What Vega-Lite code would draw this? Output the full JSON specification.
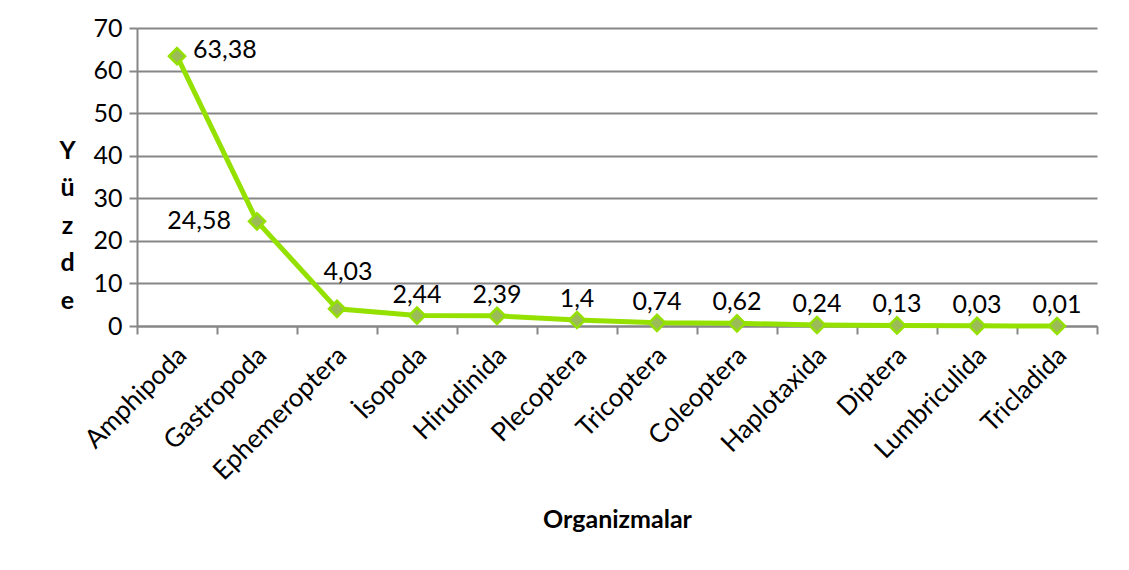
{
  "$schema": "https://vega.github.io/schema/vega-lite/v6.json",
  "width": 960,
  "height": 298,
  "autosize": {"type": "none"},
  "padding": {"left": 137, "top": 28, "right": 32, "bottom": 244},
  "background": "white",
  "config": {
    "view": {"stroke": null},
    "font": "Lato",
    "locale": {"number": {"decimal": ",", "thousands": ".", "grouping": [3], "currency": ["", " TL"]}}
  },
  "data": {
    "values": [
      {"organizma": "Amphipoda", "yuzde": 63.38},
      {"organizma": "Gastropoda", "yuzde": 24.58},
      {"organizma": "Ephemeroptera", "yuzde": 4.03},
      {"organizma": "İsopoda", "yuzde": 2.44},
      {"organizma": "Hirudinida", "yuzde": 2.39},
      {"organizma": "Plecoptera", "yuzde": 1.4},
      {"organizma": "Tricoptera", "yuzde": 0.74},
      {"organizma": "Coleoptera", "yuzde": 0.62},
      {"organizma": "Haplotaxida", "yuzde": 0.24},
      {"organizma": "Diptera", "yuzde": 0.13},
      {"organizma": "Lumbriculida", "yuzde": 0.03},
      {"organizma": "Tricladida", "yuzde": 0.01}
    ]
  },
  "encoding": {
    "x": {
      "field": "organizma",
      "type": "nominal",
      "sort": null,
      "scale": {"paddingInner": 0, "paddingOuter": 0},
      "axis": {
        "title": "Organizmalar",
        "titleFont": "Lato",
        "titleFontSize": 25,
        "titleFontWeight": "bold",
        "titleColor": "#000000",
        "titleY": 193,
        "titleBaseline": "middle",
        "labelAngle": -45,
        "labelAlign": "right",
        "labelBaseline": "middle",
        "labelFontSize": 26,
        "labelColor": "#000000",
        "labelOffset": 5,
        "labelPadding": 17,
        "tickBand": "extent",
        "tickSize": 8,
        "tickColor": "#868686",
        "tickWidth": 2,
        "domainColor": "#868686",
        "domainWidth": 2,
        "grid": false
      }
    },
    "y": {
      "field": "yuzde",
      "type": "quantitative",
      "scale": {"domain": [0, 70], "nice": false},
      "axis": {
        "title": ["Y", "ü", "z", "d", "e"],
        "titleAngle": 0,
        "titleFont": "Lato",
        "titleFontSize": 25,
        "titleFontWeight": "bold",
        "titleColor": "#000000",
        "titleLineHeight": 37.5,
        "titleAlign": "center",
        "titleBaseline": "top",
        "titleX": -70,
        "titleY": 110,
        "values": [0, 10, 20, 30, 40, 50, 60, 70],
        "labelFontSize": 25,
        "labelColor": "#000000",
        "labelPadding": 7,
        "tickSize": 8,
        "tickColor": "#868686",
        "tickWidth": 2,
        "domainColor": "#868686",
        "domainWidth": 2,
        "gridColor": "#868686",
        "gridWidth": 2
      }
    }
  },
  "layer": [
    {"mark": {"type": "line", "color": "#94E100", "strokeWidth": 5}},
    {"mark": {"type": "point", "shape": "diamond", "filled": true, "size": 260, "fill": "#9BBB59", "stroke": "#94E100", "strokeWidth": 2.5, "opacity": 1}},
    {
      "transform": [{"filter": "datum.organizma === 'Amphipoda'"}],
      "mark": {"type": "text", "align": "left", "baseline": "middle", "dx": 16, "dy": -6, "fontSize": 25, "font": "Lato", "color": "#000000"},
      "encoding": {"text": {"field": "yuzde", "type": "quantitative", "format": ".2~f"}}
    },
    {
      "transform": [{"filter": "datum.organizma === 'Gastropoda'"}],
      "mark": {"type": "text", "align": "right", "baseline": "middle", "dx": -26, "dy": 0, "fontSize": 25, "font": "Lato", "color": "#000000"},
      "encoding": {"text": {"field": "yuzde", "type": "quantitative", "format": ".2~f"}}
    },
    {
      "transform": [{"filter": "datum.organizma === 'Ephemeroptera'"}],
      "mark": {"type": "text", "align": "center", "baseline": "middle", "dx": 11, "dy": -37, "fontSize": 25, "font": "Lato", "color": "#000000"},
      "encoding": {"text": {"field": "yuzde", "type": "quantitative", "format": ".2~f"}}
    },
    {
      "transform": [{"filter": "datum.organizma !== 'Amphipoda' && datum.organizma !== 'Gastropoda' && datum.organizma !== 'Ephemeroptera'"}],
      "mark": {"type": "text", "align": "center", "baseline": "middle", "dy": -21, "fontSize": 25, "font": "Lato", "color": "#000000"},
      "encoding": {"text": {"field": "yuzde", "type": "quantitative", "format": ".2~f"}}
    }
  ]
}
